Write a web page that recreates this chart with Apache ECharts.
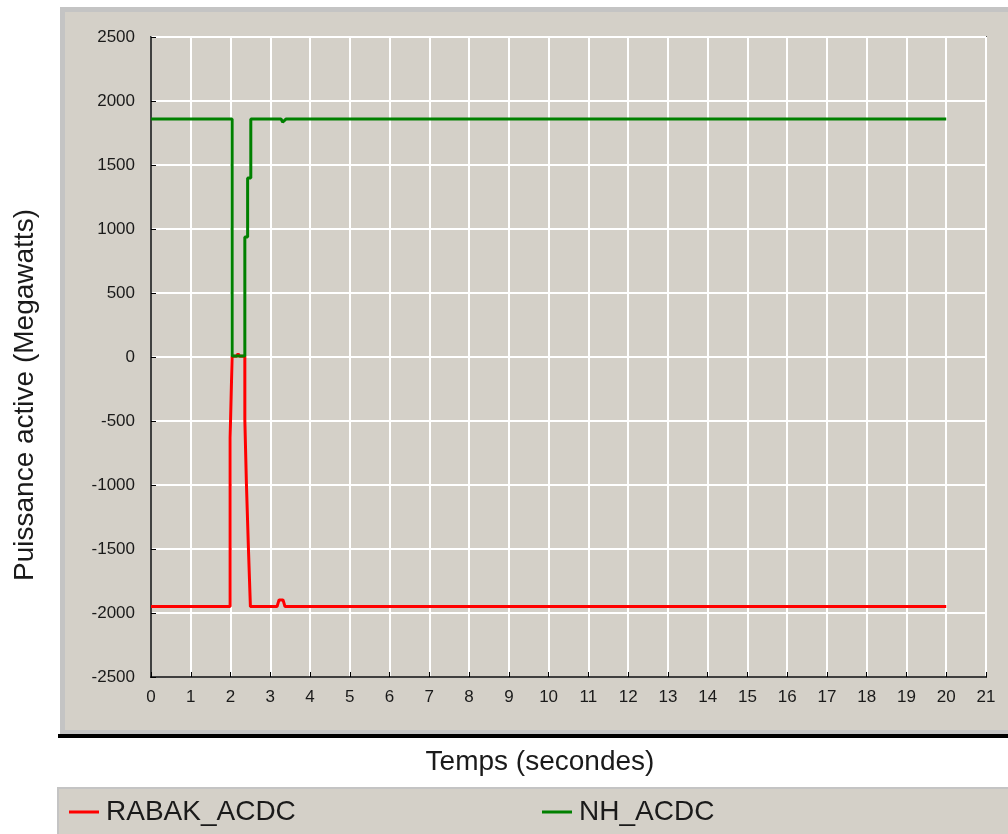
<!DOCTYPE html>
<html>
<head>
<meta charset="utf-8">
<script src="https://cdn.jsdelivr.net/npm/echarts@6/dist/echarts.min.js"></script>
<style>
html,body{margin:0;padding:0;background:#fff;}
#c{width:1008px;height:834px;}
</style>
</head>
<body>
<div id="c"></div>
<script>
// ---- data ----
const seriesNames = ['RABAK_ACDC', 'NH_ACDC'];
const rabakTime  = [0, 1.99, 1.99, 2.04, 2.04, 2.15, 2.19, 2.23, 2.36, 2.36, 2.40, 2.40, 2.45, 2.45, 2.50, 2.50, 3.17, 3.22, 3.32, 3.37, 20];
const rabakValue = [-1950, -1950, -633, -633, 5, 5, 25, 5, 5, -492, -492, -992, -992, -1492, -1492, -1950, -1950, -1898, -1898, -1950, -1950];
const nhTime  = [0, 2.04, 2.04, 2.36, 2.36, 2.43, 2.43, 2.51, 2.51, 3.27, 3.31, 3.36, 3.40, 20];
const nhValue = [1860, 1860, 8, 8, 937, 937, 1398, 1398, 1860, 1860, 1835, 1835, 1860, 1860];
const xTicks = {min: 0, max: 21, interval: 1};
const yTicks = {min: -2500, max: 2500, interval: 500};
const xName = 'Temps (secondes)';
const yName = 'Puissance active (Megawatts)';

const zip = (t, v) => t.map((x, i) => [x, v[i]]);
const FONT = '"Liberation Sans", Arial, sans-serif';

const chart = echarts.init(document.getElementById('c'), null, {renderer: 'canvas'});
chart.setOption({
  backgroundColor: '#ffffff',
  animation: false,
  graphic: [
    {type: 'rect', z: -10, shape: {x: 60, y: 7, width: 948, height: 728}, style: {fill: '#c4c4c4'}},
    {type: 'rect', z: -9, shape: {x: 65, y: 12, width: 943, height: 718}, style: {fill: '#d4d0c8'}},
    {type: 'rect', z: -9, shape: {x: 58, y: 734, width: 950, height: 4}, style: {fill: '#000000'}},
    {type: 'rect', z: -10, shape: {x: 57, y: 787, width: 951, height: 47}, style: {fill: '#c4c4c4'}},
    {type: 'rect', z: -9, shape: {x: 59, y: 789, width: 949, height: 45}, style: {fill: '#d4d0c8'}},
    {type: 'text', x: 25, y: 395, rotation: Math.PI / 2,
      style: {text: yName, font: '28px ' + FONT, fill: '#1a1a1a', align: 'center', verticalAlign: 'middle'}},
    {type: 'text', x: 540, y: 762,
      style: {text: xName, font: '28px ' + FONT, fill: '#1a1a1a', align: 'center', verticalAlign: 'middle'}}
  ],
  legend: [
    {data: [seriesNames[0]], left: 64, top: 793, itemWidth: 30, itemHeight: 3, icon: 'rect', itemGap: 0,
      textStyle: {fontFamily: FONT, fontSize: 28, color: '#1a1a1a', padding: [0, 0, 0, 2]}},
    {data: [seriesNames[1]], left: 537, top: 793, itemWidth: 30, itemHeight: 3, icon: 'rect', itemGap: 0,
      textStyle: {fontFamily: FONT, fontSize: 28, color: '#1a1a1a', padding: [0, 0, 0, 2]}}
  ],
  grid: {left: 151, top: 37, right: 22, bottom: 157, show: true, borderColor: '#000', borderWidth: 1.5, backgroundColor: 'transparent'},
  xAxis: {
    type: 'value', min: xTicks.min, max: xTicks.max, interval: xTicks.interval,
    axisLine: {show: true, onZero: false, lineStyle: {color: '#000', width: 1.5}},
    axisTick: {show: true, inside: true, length: 5, lineStyle: {color: '#000'}},
    axisLabel: {fontFamily: FONT, fontSize: 17, color: '#1a1a1a', margin: 12},
    splitLine: {show: true, lineStyle: {color: '#ffffff', width: 2}}
  },
  yAxis: {
    type: 'value', min: yTicks.min, max: yTicks.max, interval: yTicks.interval,
    axisLine: {show: true, onZero: false, lineStyle: {color: '#000', width: 1.5}},
    axisTick: {show: true, inside: true, length: 5, lineStyle: {color: '#000'}},
    axisLabel: {fontFamily: FONT, fontSize: 17, color: '#1a1a1a', margin: 16, formatter: v => String(v)},
    splitLine: {show: true, lineStyle: {color: '#ffffff', width: 2}}
  },
  series: [
    {name: seriesNames[0], type: 'line', data: zip(rabakTime, rabakValue), showSymbol: false, symbol: 'none',
      lineStyle: {color: '#ff0000', width: 3}, itemStyle: {color: '#ff0000'}, z: 2},
    {name: seriesNames[1], type: 'line', data: zip(nhTime, nhValue), showSymbol: false, symbol: 'none',
      lineStyle: {color: '#008000', width: 3}, itemStyle: {color: '#008000'}, z: 3}
  ]
});
</script>
</body>
</html>
